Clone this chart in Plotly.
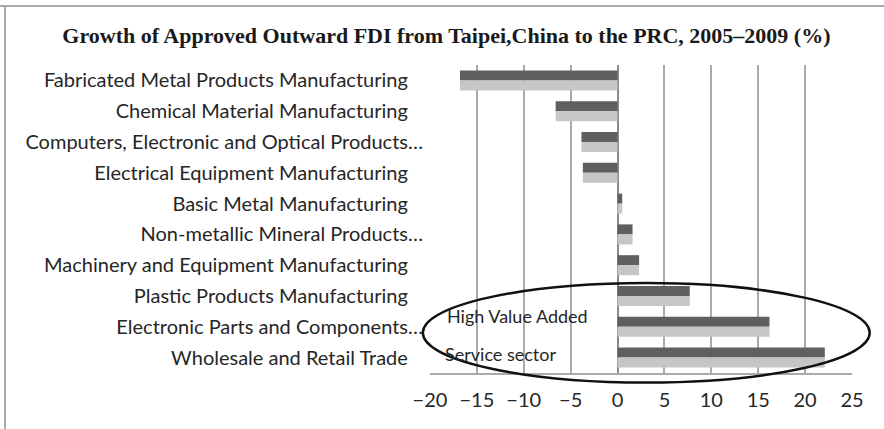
import plotly.graph_objects as go

categories = [
    "Fabricated Metal Products Manufacturing",
    "Chemical Material Manufacturing",
    "Computers, Electronic and Optical Products…",
    "Electrical Equipment Manufacturing",
    "Basic Metal Manufacturing",
    "Non-metallic Mineral Products…",
    "Machinery and Equipment Manufacturing",
    "Plastic Products Manufacturing",
    "Electronic Parts and Components…",
    "Wholesale and Retail Trade",
]
growth_dark = [-16.8, -6.6, -3.85, -3.7, 0.5, 1.6, 2.3, 7.7, 16.2, 22.1]
growth_light = [-16.8, -6.6, -3.85, -3.7, 0.5, 1.6, 2.3, 7.7, 16.2, 22.1]
x_ticks = [-20, -15, -10, -5, 0, 5, 10, 15, 20, 25]

label_font = "Lato, 'Open Sans', sans-serif"
# truncated labels (ending with an ellipsis) sit slightly further right, as in the source
tick_text = [c if c.endswith("…") else c + "\u2002\u00a0" for c in categories]

fig = go.Figure()
fig.add_trace(go.Bar(y=categories, x=growth_dark, orientation="h",
                     marker=dict(color="#5f5f61", line=dict(width=0)), showlegend=False))
fig.add_trace(go.Bar(y=categories, x=growth_light, orientation="h",
                     marker=dict(color="#c6c6c8", line=dict(width=0)), showlegend=False))

fig.update_layout(
    width=884, height=429,
    margin=dict(l=430, r=32, t=65, b=56, autoexpand=False),
    paper_bgcolor="white", plot_bgcolor="white",
    barmode="group", bargap=0.35, bargroupgap=0,
    title=dict(text="<b>Growth of Approved Outward FDI from Taipei,China to the PRC, 2005–2009 (%)</b>",
               x=0.505, xanchor="center", y=0.918, yanchor="middle",
               font=dict(family="'Liberation Serif', 'Times New Roman', serif", size=22, color="#1a1a1a")),
    xaxis=dict(range=[-20, 25], tickvals=x_ticks, showgrid=True, gridcolor="#aaaaaa", gridwidth=1.5,
               zeroline=True, zerolinecolor="#8a8a8a", zerolinewidth=2,
               showline=True, linecolor="#aaaaaa", linewidth=1.5,
               ticks="", tickfont=dict(family=label_font, size=20, color="#262626"),
               ticklabelstandoff=8, automargin=False),
    yaxis=dict(categoryorder="array", categoryarray=categories, autorange="reversed",
               tickmode="array", tickvals=categories, ticktext=tick_text,
               showgrid=False, showline=False, ticks="",
               tickfont=dict(family=label_font, size=20, color="#262626"),
               ticklabelstandoff=6, automargin=False),
    shapes=[
        dict(type="circle", xref="paper", yref="paper", x0=-0.017, x1=1.042, y0=-0.031, y1=0.292,
             line=dict(color="#111111", width=2.5)),
        dict(type="line", xref="paper", yref="paper", x0=-430/422, x1=(884-430)/422,
             y0=(373-6)/308, y1=(373-6)/308, line=dict(color="#aaaaaa", width=2)),
        dict(type="line", xref="paper", yref="paper", x0=(5-430)/422, x1=(5-430)/422,
             y0=(373-6)/308, y1=-56/308, line=dict(color="#aaaaaa", width=2)),
    ],
    annotations=[
        dict(text="High Value Added", xref="paper", yref="paper", x=0.035, y=0.185,
             xanchor="left", yanchor="middle", showarrow=False,
             font=dict(family=label_font, size=18, color="#262626")),
        dict(text="Service sector", xref="paper", yref="paper", x=0.031, y=0.062,
             xanchor="left", yanchor="middle", showarrow=False,
             font=dict(family=label_font, size=18, color="#262626")),
    ],
)

fig.write_html("out.html", config={"displayModeBar": False},
               post_script="document.body.style.margin='0';document.body.style.padding='0';")
